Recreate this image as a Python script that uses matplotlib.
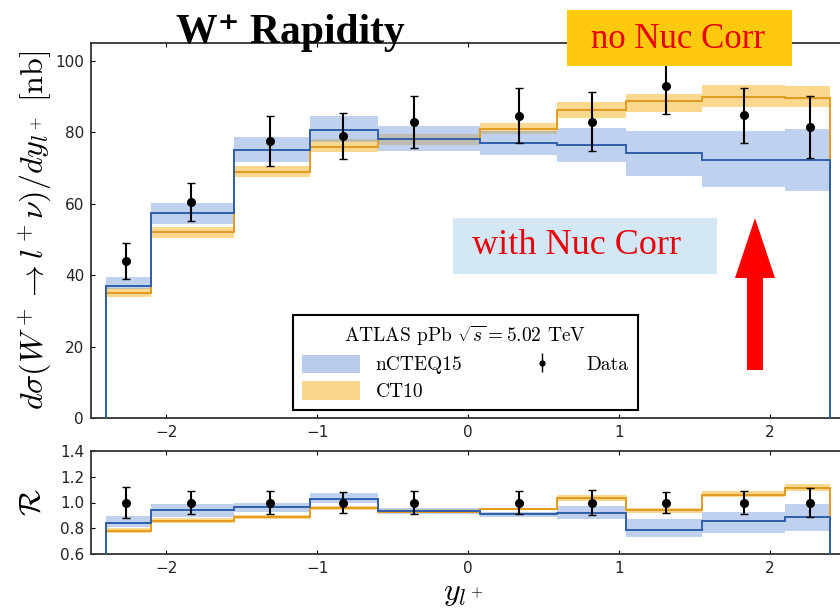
import numpy as np
import matplotlib
matplotlib.use("Agg")
from matplotlib import pyplot as plt
from matplotlib.patches import Patch, Rectangle, Polygon

plt.rcParams['mathtext.fontset'] = 'cm'
plt.rcParams['axes.formatter.use_mathtext'] = False

# bin edges in lepton rapidity
edges = [-2.4, -2.1, -1.55, -1.05, -0.6, 0.08, 0.59, 1.05, 1.55, 2.1, 2.4]

# cross section [nb]
ncteq = [37.1, 57.3, 75.0, 80.7, 78.0, 77.0, 76.4, 74.2, 72.2, 72.2]
ncteq_lo = [36.0, 54.2, 71.6, 77.2, 74.7, 73.6, 71.6, 67.7, 64.6, 63.5]
ncteq_hi = [39.6, 60.1, 78.7, 84.5, 81.7, 80.4, 81.2, 80.4, 80.4, 80.9]
ct10 = [35.1, 52.0, 69.0, 76.0, 78.0, 81.0, 86.2, 88.8, 89.9, 89.6]
ct10_lo = [33.8, 50.5, 67.5, 74.4, 76.5, 79.5, 84.0, 85.7, 87.0, 87.0]
ct10_hi = [36.3, 53.5, 70.5, 78.1, 79.5, 82.6, 88.5, 90.7, 93.3, 93.0]

data_y = [-2.27, -1.84, -1.31, -0.83, -0.36, 0.34, 0.82, 1.31, 1.83, 2.27]
data_xs = [44.0, 60.5, 77.5, 79.0, 83.0, 84.6, 83.0, 93.0, 84.8, 81.5]
data_err = [5.0, 5.3, 7.0, 6.5, 7.3, 7.7, 8.2, 8.0, 7.7, 8.7]

# ratio to data
r_ncteq = [0.84, 0.94, 0.965, 1.03, 0.936, 0.91, 0.92, 0.79, 0.853, 0.885]
r_ncteq_lo = [0.81, 0.89, 0.93, 1.00, 0.91, 0.89, 0.87, 0.73, 0.76, 0.78]
r_ncteq_hi = [0.893, 0.99, 1.00, 1.07, 0.96, 0.93, 0.97, 0.87, 0.93, 0.99]
r_ct10 = [0.78, 0.857, 0.886, 0.957, 0.93, 0.95, 1.035, 0.94, 1.06, 1.115]
r_ct10_lo = [0.76, 0.84, 0.87, 0.94, 0.92, 0.94, 1.01, 0.92, 1.04, 1.09]
r_ct10_hi = [0.80, 0.88, 0.90, 0.97, 0.95, 0.96, 1.06, 0.96, 1.09, 1.14]
r_data = [1.0, 1.0, 1.0, 1.0, 1.0, 1.0, 1.0, 1.0, 1.0, 1.0]
r_err = [0.12, 0.09, 0.09, 0.08, 0.09, 0.09, 0.10, 0.08, 0.09, 0.11]

blue_band = (0.45, 0.60, 0.86, 0.45)
blue_line = '#2f5fa8'
orange_band = (0.98, 0.72, 0.20, 0.55)
orange_line = '#e39a22'

W, H = 840, 610
fig = plt.figure(figsize=(8.4, 6.1), dpi=100)

def fx(px):
    return px / W

def fy(py):
    return 1 - py / H

ax = fig.add_axes([fx(91), fy(418), fx(845 - 91), (418 - 43) / H])
axr = fig.add_axes([fx(91), fy(554), fx(845 - 91), (554 - 451) / H])


def draw_panel(a, c_lo, c_hi, c_mid, n_lo, n_hi, n_mid, yv, ye, base):
    a.stairs(c_hi, edges, baseline=c_lo, fill=True, color=orange_band, lw=0, zorder=1)
    a.stairs(n_hi, edges, baseline=n_lo, fill=True, color=blue_band, lw=0, zorder=2)
    a.stairs(c_mid, edges, baseline=base, color=orange_line, lw=1.4, zorder=3)
    a.stairs(n_mid, edges, baseline=base, color=blue_line, lw=1.4, zorder=4)
    a.errorbar(data_y, yv, yerr=ye, fmt='o', color='black', ms=5.5,
               capsize=3, elinewidth=1.5, capthick=1, zorder=5)
    a.set_xlim(-2.5, 2.5)
    a.set_xticks([-2, -1, 0, 1, 2])
    a.tick_params(direction='in', top=True, right=True, length=3,
                  labelsize=11, labelcolor='#222222', pad=5)
    for s in a.spines.values():
        s.set_linewidth(1.3)
        s.set_color('#333333')


draw_panel(ax, ct10_lo, ct10_hi, ct10, ncteq_lo, ncteq_hi, ncteq,
           data_xs, data_err, 0)
ax.set_ylim(0, 105)
ax.set_yticks([0, 20, 40, 60, 80, 100])
ax.set_ylabel(r'$d\sigma(W^+\rightarrow l^+\nu)/dy_{l^+}\ \mathrm{[nb]}$',
              fontsize=23, labelpad=1)

draw_panel(axr, r_ct10_lo, r_ct10_hi, r_ct10, r_ncteq_lo, r_ncteq_hi, r_ncteq,
           r_data, r_err, 0)
axr.set_ylim(0.6, 1.4)
axr.set_yticks([0.6, 0.8, 1.0, 1.2, 1.4])
axr.set_yticklabels(['0.6', '0.8', '1.0', '1.2', '1.4'])
axr.set_ylabel(r'$\mathcal{R}$', fontsize=22, labelpad=10)

fig.text(fx(463), fy(592), r'$y_{l^+}$', fontsize=23, ha='center', va='center')

# legend
handles = [Patch(facecolor=(0.72, 0.80, 0.93), edgecolor='none'),
           Patch(facecolor=(0.98, 0.84, 0.55), edgecolor='none'),
           ax.errorbar([], [], yerr=[], fmt='o', color='black', ms=3.5,
                       capsize=2, elinewidth=1)]
leg = ax.legend(handles, ['nCTEQ15', 'CT10', 'Data'], ncol=2,
                title=r'ATLAS pPb $\sqrt{s}=5.02$ TeV',
                loc='lower left', bbox_to_anchor=(fx(293), fy(410)),
                bbox_transform=fig.transFigure, borderaxespad=0,
                prop={'family': 'cmr10', 'size': 14}, fancybox=False,
                framealpha=1, edgecolor='black', handlelength=3.0,
                handleheight=1.1, columnspacing=2.6, borderpad=0.45,
                labelspacing=0.35)
leg.get_title().set_fontsize(14)
leg.get_title().set_family('cmr10')
leg.get_frame().set_linewidth(1.5)

# title
fig.text(fx(290), fy(43), 'W\u207a Rapidity', fontsize=30, weight='bold',
         family=['Liberation Serif', 'DejaVu Serif'], ha='center', va='baseline')

# annotation boxes
fig.patches.append(Rectangle((fx(567), fy(66)), fx(792 - 567), (66 - 10) / H,
                             transform=fig.transFigure, facecolor='#ffc90e',
                             edgecolor='none', zorder=10))
fig.text(fx(678), fy(40), 'no Nuc Corr', fontsize=25, color='#e8000b',
         family='Liberation Serif', ha='center', va='center', zorder=11)

fig.patches.append(Rectangle((fx(453), fy(274)), fx(717 - 453), (274 - 218) / H,
                             transform=fig.transFigure, facecolor='#d3e8f4',
                             edgecolor='none', zorder=10))
fig.text(fx(577), fy(246), 'with Nuc Corr', fontsize=26, color='#e8000b',
         family='Liberation Serif', ha='center', va='center', zorder=11)

# red arrow
ax_c, tip, head_base, bottom = 755, 218, 278, 370
arrow_px = [(ax_c, tip), (ax_c + 20, head_base), (ax_c + 8, head_base),
            (ax_c + 8, bottom), (ax_c - 8, bottom), (ax_c - 8, head_base),
            (ax_c - 20, head_base)]
fig.patches.append(Polygon([(fx(x), fy(y)) for x, y in arrow_px], closed=True,
                           transform=fig.transFigure, facecolor='#ff0000',
                           edgecolor='none', zorder=10))

fig.savefig('out.png', dpi=100)
